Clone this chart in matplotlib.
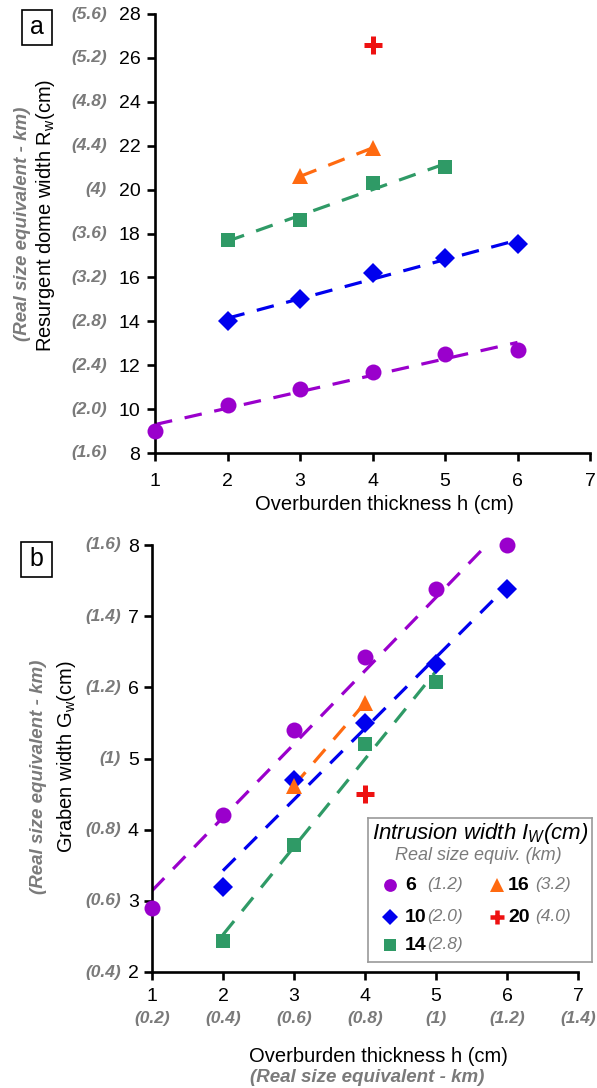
import numpy as np
import matplotlib
matplotlib.use('Agg')
import matplotlib.pyplot as plt
from matplotlib.patches import Rectangle
import matplotlib.transforms as mtransforms

plt.rcParams['font.family'] = 'Liberation Sans'
plt.rcParams['mathtext.fontset'] = 'custom'
plt.rcParams['mathtext.rm'] = 'Liberation Sans'
plt.rcParams['mathtext.it'] = 'Liberation Sans:italic'

# ---------------- data ----------------
intrusion_widths = [6, 10, 14, 16, 20]
intrusion_km = ['(1.2)', '(2.0)', '(2.8)', '(3.2)', '(4.0)']

# panel a: resurgent dome width Rw (cm) vs overburden thickness h (cm)
h_a = {6: [1, 2, 3, 4, 5, 6], 10: [2, 3, 4, 5, 6], 14: [2, 3, 4, 5], 16: [3, 4], 20: [4]}
rw_6 = [9.0, 10.2, 10.9, 11.7, 12.5, 12.7]
rw_10 = [14.0, 15.0, 16.2, 16.9, 17.5]
rw_14 = [17.7, 18.6, 20.3, 21.05]
rw_16 = [20.6, 21.9]
rw_20 = [26.6]

# panel b: graben width Gw (cm) vs overburden thickness h (cm)
h_b = {6: [1, 2, 3, 4, 5, 6], 10: [2, 3, 4, 5, 6], 14: [2, 3, 4, 5], 16: [3, 4], 20: [4]}
gw_6 = [2.9, 4.2, 5.4, 6.43, 7.38, 8.0]
gw_10 = [3.2, 4.7, 5.5, 6.33, 7.38]
gw_14 = [2.44, 3.78, 5.2, 6.08]
gw_16 = [4.62, 5.78]
gw_20 = [4.5]

yticks_a = [8, 10, 12, 14, 16, 18, 20, 22, 24, 26, 28]
yticks_a_km = ['(1.6)', '(2.0)', '(2.4)', '(2.8)', '(3.2)', '(3.6)', '(4)', '(4.4)', '(4.8)', '(5.2)', '(5.6)']
yticks_b = [2, 3, 4, 5, 6, 7, 8]
yticks_b_km = ['(0.4)', '(0.6)', '(0.8)', '(1)', '(1.2)', '(1.4)', '(1.6)']
xticks = [1, 2, 3, 4, 5, 6, 7]
xticks_km = ['(0.2)', '(0.4)', '(0.6)', '(0.8)', '(1)', '(1.2)', '(1.4)']

rw = {6: rw_6, 10: rw_10, 14: rw_14, 16: rw_16, 20: rw_20}
gw = {6: gw_6, 10: gw_10, 14: gw_14, 16: gw_16, 20: gw_20}

# ---------------- styles ----------------
style = {
    6: dict(color='#9A00CC', marker='o', ms=11.5, mew=0),
    10: dict(color='#0000EE', marker='D', ms=10.2, mew=0),
    14: dict(color='#2F9A66', marker='s', ms=10.2, mew=0),
    16: dict(color='#FF6A10', marker='^', ms=12, mew=0),
    20: dict(color='#EE1111', marker='+', ms=13, mew=3.6),
}
GRAY = '#7a7a7a'

W, H = 597, 1088
fig = plt.figure(figsize=(W / 100, H / 100), dpi=100)


def px(x, y):
    return x / W, 1 - y / H


def axes_px(left, right, top, bottom):
    return fig.add_axes([left / W, 1 - bottom / H, (right - left) / W, (bottom - top) / H])


def style_axes(ax, xpad, ypad):
    for s in ['top', 'right']:
        ax.spines[s].set_visible(False)
    for s in ['left', 'bottom']:
        ax.spines[s].set_linewidth(1.9)
    ax.tick_params(direction='out', length=5.5, width=1.9, labelsize=14)
    ax.tick_params(axis='x', pad=xpad)
    ax.tick_params(axis='y', pad=ypad)


def draw_series(ax, hdict, ydict):
    for iw in intrusion_widths:
        x = np.array(hdict[iw], dtype=float)
        y = np.array(ydict[iw], dtype=float)
        st = style[iw]
        if len(x) >= 2:
            p = np.polyfit(x, y, 1)
            xl = np.array([x.min(), x.max()])
            ax.plot(xl, np.polyval(p, xl), color=st['color'], lw=2.3,
                    dashes=(5.5, 4), zorder=2, clip_on=True)
        ax.plot(x, y, linestyle='none', marker=st['marker'], ms=st['ms'],
                color=st['color'], mew=st['mew'], zorder=3, clip_on=False)


# ---------------- panel a ----------------
axa = axes_px(155, 590, 14, 453)
draw_series(axa, h_a, rw)
axa.set_xlim(1, 7)
axa.set_ylim(8, 28)
axa.set_xticks(xticks)
axa.set_yticks(yticks_a)
style_axes(axa, xpad=9, ypad=5)
tr = mtransforms.offset_copy(axa.get_yaxis_transform(), fig=fig, x=-48, y=0, units='dots')
for v, lab in zip(yticks_a, yticks_a_km):
    axa.text(0, v, lab, transform=tr, ha='right', va='center', color=GRAY,
             fontsize=12.5, fontstyle='italic', fontweight='bold')

fig.text(*px(384, 505), 'Overburden thickness h (cm)', ha='center', va='center', fontsize=14.5)
fig.text(*px(46, 215), r'Resurgent dome width R$_\mathrm{w}$(cm)', rotation=90,
         ha='center', va='center', fontsize=14.5)
fig.text(*px(23, 224), '(Real size equivalent - km)', rotation=90, ha='center', va='center',
         fontsize=13.5, fontstyle='italic', fontweight='bold', color=GRAY)

# ---------------- panel b ----------------
axb = axes_px(152, 578, 545, 972)
draw_series(axb, h_b, gw)
axb.set_xlim(1, 7)
axb.set_ylim(2, 8)
axb.set_xticks(xticks)
axb.set_yticks(yticks_b)
style_axes(axb, xpad=6, ypad=4)
trb = mtransforms.offset_copy(axb.get_yaxis_transform(), fig=fig, x=-31, y=0, units='dots')
for v, lab in zip(yticks_b, yticks_b_km):
    axb.text(0, v, lab, transform=trb, ha='right', va='center', color=GRAY,
             fontsize=12.5, fontstyle='italic', fontweight='bold')
trx = mtransforms.offset_copy(axb.get_xaxis_transform(), fig=fig, x=0, y=-47, units='dots')
for v, lab in zip(xticks, xticks_km):
    axb.text(v, 0, lab, transform=trx, ha='center', va='center', color=GRAY,
             fontsize=12.5, fontstyle='italic', fontweight='bold')

fig.text(*px(378, 1056), 'Overburden thickness h (cm)', ha='center', va='center', fontsize=14.5)
fig.text(*px(367, 1077), '(Real size equivalent - km)', ha='center', va='center',
         fontsize=13.5, fontstyle='italic', fontweight='bold', color=GRAY)
fig.text(*px(66, 757), r'Graben width G$_\mathrm{w}$(cm)', rotation=90,
         ha='center', va='center', fontsize=14.5)
fig.text(*px(39, 777), '(Real size equivalent - km)', rotation=90, ha='center', va='center',
         fontsize=13.5, fontstyle='italic', fontweight='bold', color=GRAY)

# ---------------- panel letters ----------------
for (l, t, r, b), letter in [((22, 10, 52, 45), 'a'), ((21, 542, 52, 577), 'b')]:
    x0, y0 = px(l, b)
    fig.patches.append(Rectangle((x0, y0), (r - l) / W, (b - t) / H, transform=fig.transFigure,
                                 fill=False, edgecolor='black', lw=1.2))
    fig.text(*px((l + r) / 2, (t + b) / 2 - 1), letter, ha='center', va='center', fontsize=18)

# ---------------- legend (panel b) ----------------
axl = axes_px(368, 592, 818, 962)
axl.set_xlim(368, 592)
axl.set_ylim(962, 818)
axl.set_xticks([])
axl.set_yticks([])
for s in axl.spines.values():
    s.set_edgecolor('#9a9a9a')
    s.set_linewidth(1.2)
axl.text(480, 834, r'Intrusion width $I_W$(cm)', ha='center', va='center', fontsize=16,
         fontstyle='italic')
axl.text(478, 855, 'Real size equiv. (km)', ha='center', va='center', fontsize=13,
         fontstyle='italic', color=GRAY)
leg_pos = {6: (390, 885, 0), 16: (497, 885, 1), 10: (390, 917, 0), 20: (497, 917, 1), 14: (390, 945, 0)}
for iw, km in zip(intrusion_widths, intrusion_km):
    mx, my, col = leg_pos[iw]
    st = style[iw]
    axl.plot([mx], [my], linestyle='none', marker=st['marker'], color=st['color'],
             ms=st['ms'] * 0.8, mew=st['mew'] * 0.9)
    tx = 405 if col == 0 else 508
    kx = 427 if col == 0 else 535
    axl.text(tx, my, str(iw), ha='left', va='center', fontsize=14, fontweight='bold')
    axl.text(kx, my, km, ha='left', va='center', fontsize=12.5, fontstyle='italic', color=GRAY)

fig.savefig('out.png', dpi=100)
